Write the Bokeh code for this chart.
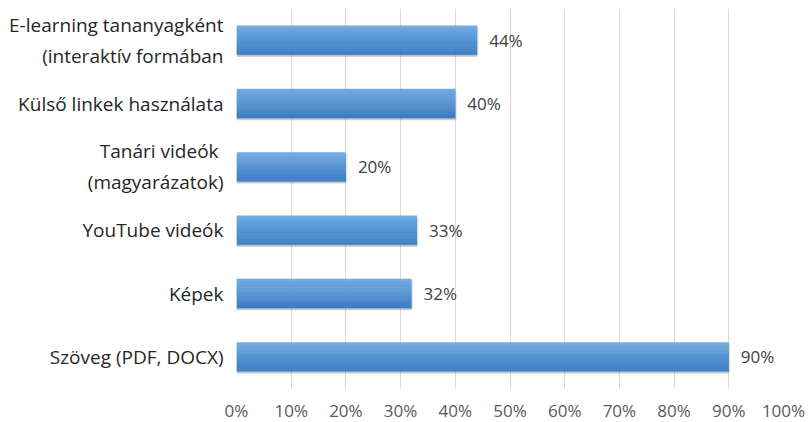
import numpy as np
from bokeh.plotting import figure
from bokeh.models import FixedTicker, PrintfTickFormatter, ColumnDataSource
from bokeh.core.properties import value
from bokeh.embed import file_html
from bokeh.resources import INLINE

# Data (top to bottom as in the chart)
categories = ["E-learning tananyagként\n(interaktív formában",
              "Külső linkek használata",
              "Tanári videók \n(magyarázatok)",
              "YouTube videók",
              "Képek",
              "Szöveg (PDF, DOCX)"]
values = [44, 40, 20, 33, 32, 90]
value_labels = ["44%", "40%", "20%", "33%", "32%", "90%"]
x_ticks = [0, 10, 20, 30, 40, 50, 60, 70, 80, 90, 100]

n = len(categories)
ypos = np.arange(n)[::-1].astype(float)  # top category highest

FONT = "Open Sans"
p = figure(frame_width=547, frame_height=380, output_backend="svg", toolbar_location=None,
           x_range=(0, 100), y_range=(-0.5, n - 0.5),
           min_border_left=236, min_border_right=22, min_border_top=8, min_border_bottom=34)
p.outline_line_color = None
p.background_fill_color = "white"
p.border_fill_color = "white"

bar_h = 0.46
# shadow
p.hbar(y=ypos - 0.035, right=values, left=0, height=bar_h, fill_color="#7f7f7f",
       fill_alpha=0.35, line_color=None)
p.hbar(y=ypos - 0.02, right=np.array(values) + 0.25, left=0, height=bar_h, fill_color="#7f7f7f",
       fill_alpha=0.25, line_color=None)

# gradient strips (light at top to darker at bottom)
N = 14
top_c = np.array([0x70, 0xaa, 0xe3])
bot_c = np.array([0x3c, 0x7e, 0xc6])
for k in range(N):
    t = k / (N - 1)
    c = (top_c * (1 - t) + bot_c * t).astype(int)
    col = "#%02x%02x%02x" % tuple(c)
    yc = ypos + bar_h / 2 - (k + 0.5) * bar_h / N
    p.hbar(y=yc, right=values, left=0, height=bar_h / N + 0.004, fill_color=col, line_color=None)

# value labels
src = ColumnDataSource(dict(x=values, y=ypos, t=value_labels))
p.text(x="x", y="y", text="t", source=src, x_offset=12, text_align="left",
       text_baseline="middle", text_font=value(FONT), text_font_size="17px", text_color="#404040")

# axes
p.xaxis.ticker = FixedTicker(ticks=x_ticks)
p.xaxis.formatter = PrintfTickFormatter(format="%d%%")
p.xaxis.axis_line_color = None
p.xaxis.major_tick_line_color = None
p.xaxis.minor_tick_line_color = None
p.xaxis.major_tick_out = 0
p.xaxis.major_tick_in = 0
p.xaxis.minor_tick_out = 0
p.xaxis.major_label_text_font = FONT
p.xaxis.major_label_text_font_size = "17px"
p.xaxis.major_label_text_color = "#595959"
p.xaxis.major_label_standoff = 10

p.yaxis.ticker = FixedTicker(ticks=list(ypos))
p.yaxis.major_label_overrides = {float(y): c for y, c in zip(ypos, categories)}
p.yaxis.axis_line_color = None
p.yaxis.major_tick_line_color = None
p.yaxis.minor_tick_line_color = None
p.yaxis.major_tick_out = 0
p.yaxis.major_tick_in = 0
p.yaxis.minor_tick_out = 0
p.yaxis.major_label_text_font = FONT
p.yaxis.major_label_text_font_size = "19px"
p.yaxis.major_label_text_color = "#262626"
p.yaxis.major_label_standoff = 13

p.xgrid.grid_line_color = "#d9d9d9"
p.xgrid.grid_line_width = 1
p.ygrid.grid_line_color = None

open("out.html", "w").write(file_html(p, INLINE))
